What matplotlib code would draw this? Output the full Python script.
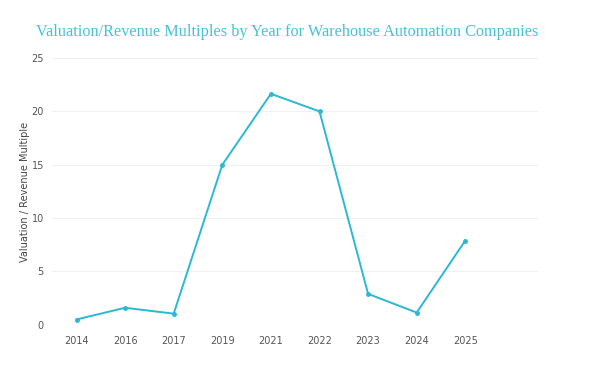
import matplotlib
matplotlib.use('Agg')
import matplotlib.pyplot as plt
import numpy as np

years = ['2014', '2016', '2017', '2019', '2021', '2022', '2023', '2024', '2025']
multiples = [0.5, 1.6, 1.05, 15.0, 21.65, 20.0, 2.9, 1.15, 7.9]
y_ticks = [0, 5, 10, 15, 20, 25]

line_color = '#2bb8d4'
title_color = '#45c3d6'
text_color = '#555555'

fig = plt.figure(figsize=(6.0, 3.65), dpi=100)
ax = fig.add_axes([0.087, 0.110, 0.81, 0.731])

x = np.arange(len(years))
ax.plot(x, multiples, color=line_color, linewidth=1.4, marker='o', markersize=2.5)

ax.set_xlim(-0.5, 9.5)
ax.set_ylim(0, 25)
ax.set_xticks(x)
ax.set_xticklabels(years)
ax.set_yticks(y_ticks)
ax.tick_params(axis='y', length=0, labelsize=7, colors=text_color, pad=6)
ax.tick_params(axis='x', length=0, labelsize=7, colors=text_color, pad=8)
ax.grid(axis='y', color='#f0f0f0', linewidth=0.8)
ax.set_axisbelow(True)
for s in ax.spines.values():
    s.set_visible(False)

ax.set_ylabel('Valuation / Revenue Multiple', fontsize=7, color='#444444', labelpad=1)

fig.text(0.478, 0.912, 'Valuation/Revenue Multiples by Year for Warehouse Automation Companies',
         ha='center', va='center', fontsize=11.7, color=title_color,
         family='Liberation Serif')

fig.savefig('out.png', dpi=100)
